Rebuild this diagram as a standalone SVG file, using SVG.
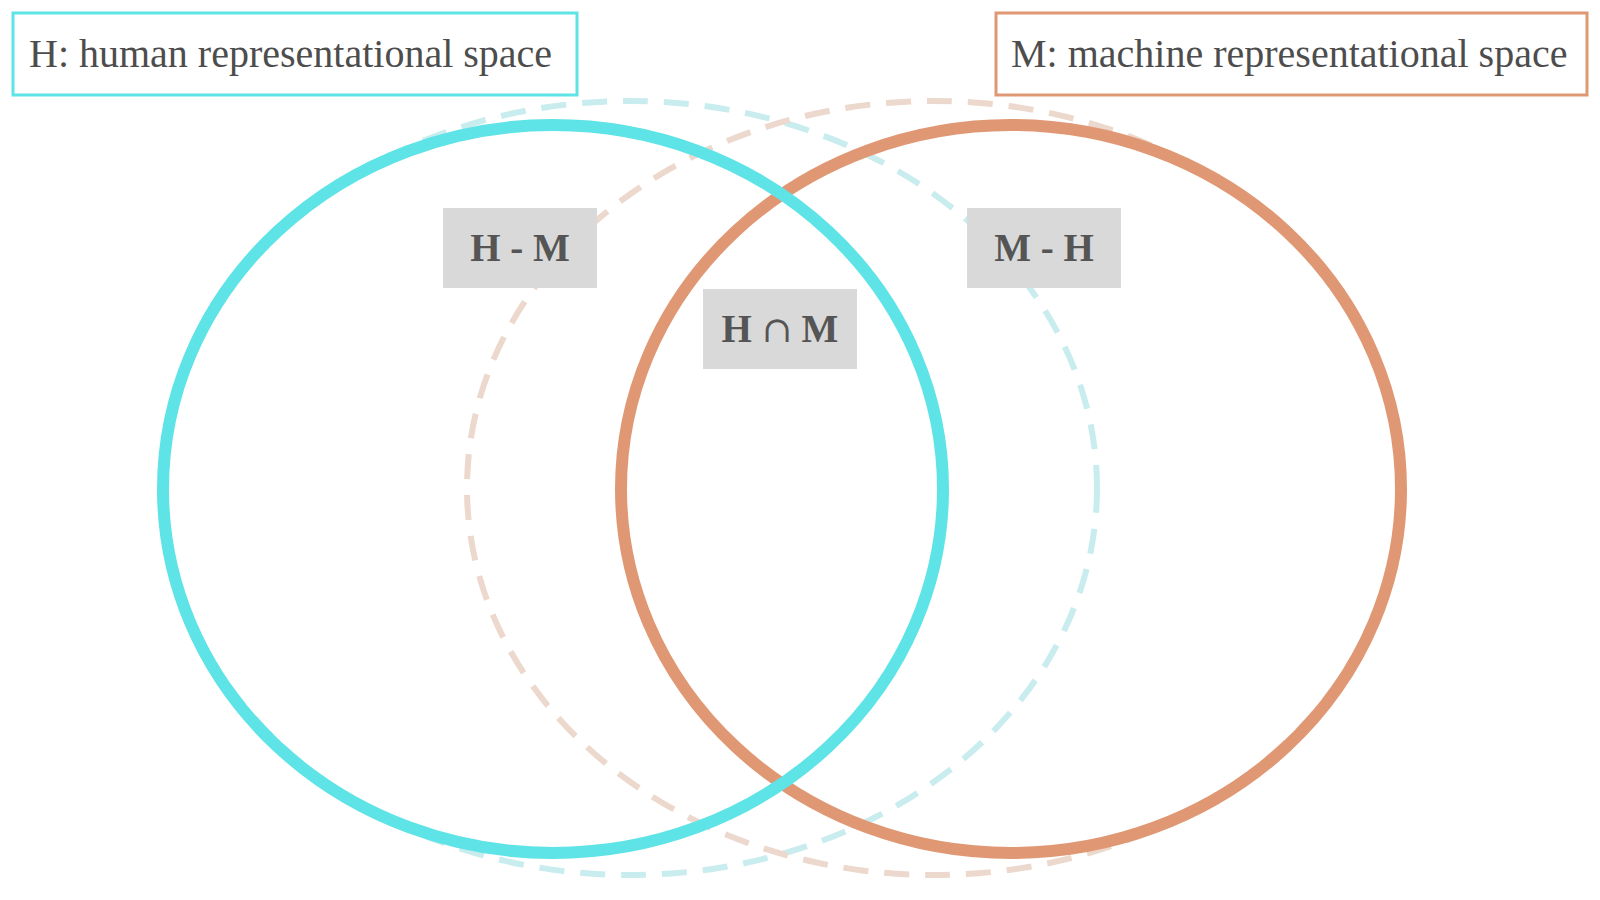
<svg xmlns="http://www.w3.org/2000/svg" width="1600" height="900" viewBox="0 0 1600 900">
<style>
.legend{fill:#fff;stroke-width:3}
.ltxt{font-family:"Liberation Serif","Times New Roman",serif;font-size:40px;fill:#4d4d4d}
.dash{fill:none;stroke-width:6;stroke-dasharray:25 16}
.solid{fill:none;stroke-width:12}
.lbl{fill:#d9d9d9}
.btxt{font-family:"Liberation Serif","Times New Roman",serif;font-size:39px;font-weight:bold;fill:#555;text-anchor:middle}
.cap{font-family:"DejaVu Serif",serif;font-weight:normal;font-size:36px}
</style>
<rect width="1600" height="900" fill="#fff"/>
<g id="connectors">
<ellipse id="h-dashed" class="dash" cx="630" cy="488" rx="467" ry="387" stroke="#c9ecee"/>
<ellipse id="m-dashed" class="dash" cx="934" cy="488" rx="467" ry="387" stroke="#ecd8cc"/>
</g>
<g id="label-h-minus-m">
<rect class="lbl" x="443" y="208" width="154" height="80"/>
<text class="btxt" x="520" y="261">H - M</text>
</g>
<g id="label-m-minus-h">
<rect class="lbl" x="967" y="208" width="154" height="80"/>
<text class="btxt" x="1044" y="261">M - H</text>
</g>
<g id="label-h-cap-m">
<rect class="lbl" x="703" y="289" width="154" height="80"/>
<text class="btxt" x="780" y="342">H <tspan class="cap">∩</tspan> M</text>
</g>
<g id="set-m">
<ellipse class="solid" cx="1011" cy="489" rx="390" ry="364" stroke="#e09874"/>
</g>
<g id="set-h">
<ellipse class="solid" cx="553" cy="489" rx="390" ry="364" stroke="#5ee3e6"/>
</g>
<g id="legend-h">
<rect class="legend" x="13" y="13" width="564" height="82" stroke="#5ee3e6"/>
<text class="ltxt" x="29" y="67">H: human representational space</text>
</g>
<g id="legend-m">
<rect class="legend" x="996" y="13" width="591" height="82" stroke="#e09874"/>
<text class="ltxt" x="1011" y="67">M: machine representational space</text>
</g>
</svg>
